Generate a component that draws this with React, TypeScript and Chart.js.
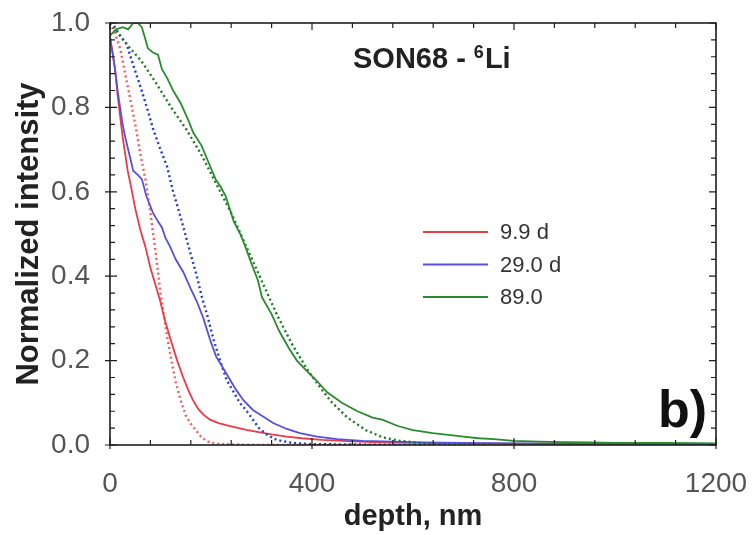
import React, { useEffect, useRef } from "react";
import { Chart, registerables } from "chart.js";

Chart.register(...registerables);

// ---------- data ----------
const SERIES_LABELS = ["9.9 d", "29.0 d", "89.0"];
const X_TICKS = [0, 400, 800, 1200];
const Y_TICKS = [0, 0.2, 0.4, 0.6, 0.8, 1.0];

// 9.9 d measured
const RED_DEPTH = [0, 5, 10, 15, 20, 25, 30, 35, 42, 50, 60, 70, 80, 90, 99, 110, 120, 133, 145, 155, 164, 175, 185, 198, 215, 230, 244, 270, 297, 320, 350, 380, 420, 470, 520, 600, 700, 800, 900, 1000, 1100, 1200];
const RED_VALUE = [0.97, 0.93, 0.89, 0.83, 0.78, 0.73, 0.69, 0.65, 0.61, 0.56, 0.51, 0.47, 0.42, 0.38, 0.343, 0.29, 0.25, 0.2, 0.16, 0.13, 0.107, 0.085, 0.072, 0.06, 0.052, 0.047, 0.043, 0.036, 0.03, 0.025, 0.02, 0.016, 0.012, 0.009, 0.007, 0.005, 0.004, 0.003, 0.003, 0.002, 0.002, 0.002];
// 9.9 d fit
const RED_FIT_DEPTH = [0, 10, 20, 30, 40, 50, 60, 70, 80, 90, 100, 110, 120, 130, 140, 150, 160, 170, 180, 190, 200, 220, 260, 300, 400, 500, 600];
const RED_FIT_VALUE = [1.0, 0.975, 0.94, 0.88, 0.82, 0.76, 0.69, 0.63, 0.55, 0.46, 0.36, 0.28, 0.21, 0.15, 0.105, 0.07, 0.05, 0.035, 0.02, 0.01, 0.005, 0.002, 0.001, 0.0, 0.0, 0.0, 0.0];

// 29.0 d measured
const BLUE_DEPTH = [0, 5, 10, 15, 20, 25, 30, 38, 46, 55, 63, 72, 85, 95, 103, 110, 119, 130, 145, 160, 172, 185, 198, 210, 225, 238, 250, 265, 283, 300, 323, 350, 376, 410, 450, 500, 560, 620, 700, 800, 900, 1000, 1100, 1200];
const BLUE_VALUE = [0.96, 0.93, 0.89, 0.84, 0.8, 0.76, 0.73, 0.69, 0.65, 0.64, 0.63, 0.59, 0.55, 0.53, 0.515, 0.49, 0.47, 0.44, 0.41, 0.37, 0.34, 0.3, 0.25, 0.21, 0.18, 0.154, 0.13, 0.105, 0.083, 0.07, 0.052, 0.038, 0.028, 0.02, 0.014, 0.01, 0.008, 0.006, 0.005, 0.004, 0.003, 0.003, 0.002, 0.002];
// 29.0 d fit
const BLUE_FIT_DEPTH = [0, 10, 20, 33, 46, 60, 73, 85, 100, 113, 125, 135, 145, 158, 172, 182, 192, 205, 218, 231, 245, 257, 271, 283, 295, 310, 330, 360, 400, 500, 600, 700];
const BLUE_FIT_VALUE = [1.0, 0.99, 0.97, 0.95, 0.9, 0.85, 0.8, 0.75, 0.7, 0.66, 0.6, 0.56, 0.517, 0.46, 0.4, 0.35, 0.31, 0.25, 0.2, 0.154, 0.125, 0.1, 0.08, 0.06, 0.04, 0.025, 0.012, 0.005, 0.002, 0.001, 0.0, 0.0];

// 89.0 measured
const GREEN_DEPTH = [0, 12, 25, 36, 46, 55, 63, 68, 75, 85, 95, 103, 113, 125, 140, 155, 165, 181, 195, 209, 220, 229, 245, 258, 268, 280, 293, 301, 320, 335, 354, 370, 390, 408, 430, 459, 490, 520, 539, 570, 600, 639, 670, 700, 730, 760, 800, 850, 900, 950, 1000, 1100, 1200];
const GREEN_VALUE = [0.97, 0.985, 0.99, 0.985, 1.0, 1.0, 0.99, 0.97, 0.94, 0.93, 0.925, 0.89, 0.87, 0.84, 0.81, 0.77, 0.74, 0.71, 0.67, 0.63, 0.61, 0.59, 0.53, 0.5, 0.47, 0.43, 0.39, 0.35, 0.31, 0.27, 0.23, 0.2, 0.175, 0.154, 0.125, 0.1, 0.08, 0.065, 0.06, 0.045, 0.035, 0.028, 0.024, 0.02, 0.016, 0.014, 0.01, 0.008, 0.007, 0.006, 0.005, 0.005, 0.004];
// 89.0 fit
const GREEN_FIT_DEPTH = [0, 20, 40, 62, 90, 121, 150, 180, 210, 240, 270, 300, 330, 360, 390, 420, 440, 470, 507, 540, 573, 620, 680, 800, 1000, 1200];
const GREEN_FIT_VALUE = [1.0, 0.97, 0.94, 0.91, 0.86, 0.8, 0.75, 0.69, 0.62, 0.55, 0.47, 0.39, 0.31, 0.24, 0.18, 0.13, 0.1, 0.065, 0.035, 0.018, 0.01, 0.004, 0.001, 0.0, 0.0, 0.0];

const FONT = "'Liberation Sans', Arial, Helvetica, sans-serif";

const pts = (xs: number[], ys: number[]) => xs.map((x, i) => ({ x, y: ys[i] }));

const framePlugin = {
  id: "frameTicks",
  afterDatasetsDraw(chart: any) {
    const { ctx, chartArea: a, scales } = chart;
    const xs = scales.x;
    const ys = scales.y;
    ctx.save();
    ctx.strokeStyle = "#1e1e1e";
    ctx.lineWidth = 1.6;
    ctx.strokeRect(a.left, a.top, a.right - a.left, a.bottom - a.top);
    ctx.lineWidth = 1.2;
    ctx.beginPath();
    for (let i = 0; i <= 15; i++) {
      const v = i * 80;
      const px = xs.getPixelForValue(v);
      const major = i % 5 === 0;
      const len = major ? 7 : 5;
      ctx.moveTo(px, a.bottom + (major ? 4 : 0));
      ctx.lineTo(px, a.bottom - len);
      ctx.moveTo(px, a.top);
      ctx.lineTo(px, a.top + len);
    }
    for (let i = 0; i <= 25; i++) {
      const v = i * 0.04;
      const py = ys.getPixelForValue(v);
      const major = i % 5 === 0;
      const len = major ? 7 : 5;
      ctx.moveTo(a.left - (major ? 5 : 0), py);
      ctx.lineTo(a.left + len, py);
      ctx.moveTo(a.right, py);
      ctx.lineTo(a.right - len, py);
    }
    ctx.stroke();

    // legend
    const sets = chart.data.datasets.filter((d: any) => !d.isFit);
    const order = [...sets].sort((p: any, q: any) => p.legendIndex - q.legendIndex);
    order.forEach((d: any, k: number) => {
      const y = a.top + 209 + k * 32.5;
      ctx.strokeStyle = d.borderColor;
      ctx.lineWidth = 2;
      ctx.beginPath();
      ctx.moveTo(a.left + 313, y);
      ctx.lineTo(a.left + 378, y);
      ctx.stroke();
      ctx.fillStyle = "#333";
      ctx.font = `22px ${FONT}`;
      ctx.textBaseline = "middle";
      ctx.textAlign = "left";
      ctx.fillText(d.label, a.left + 390, y + 1);
    });

    // title
    ctx.fillStyle = "#222";
    ctx.textBaseline = "alphabetic";
    ctx.textAlign = "left";
    let tx = 353;
    const ty = 68;
    ctx.font = `bold 29px ${FONT}`;
    ctx.fillText("SON68 - ", tx, ty);
    tx += ctx.measureText("SON68 - ").width;
    ctx.font = `bold 18px ${FONT}`;
    ctx.fillText("6", tx, ty - 10);
    tx += ctx.measureText("6").width + 1;
    ctx.font = `bold 29px ${FONT}`;
    ctx.fillText("Li", tx, ty);

    // panel label
    ctx.font = `bold 52px ${FONT}`;
    ctx.fillStyle = "#111";
    ctx.fillText("b)", a.left + 548, a.bottom - 18);
    ctx.restore();
  },
};

export default function App() {
  const ref = useRef<HTMLCanvasElement | null>(null);
  useEffect(() => {
    document.body.style.margin = "0";
    const canvas = ref.current;
    if (!canvas) return;
    const solid = (label: string, xs: number[], ys: number[], color: string, legendIndex: number) => ({
      label,
      data: pts(xs, ys),
      borderColor: color,
      backgroundColor: color,
      borderWidth: 1.8,
      pointRadius: 0,
      showLine: true,
      tension: 0,
      isFit: false,
      legendIndex,
    });
    const fit = (label: string, xs: number[], ys: number[], color: string) => ({
      label,
      data: pts(xs, ys),
      borderColor: color,
      backgroundColor: color,
      borderWidth: 2.4,
      borderDash: [2, 3],
      pointRadius: 0,
      showLine: true,
      tension: 0,
      isFit: true,
    });
    const chart = new Chart(canvas, {
      type: "scatter",
      data: {
        datasets: [
          solid(SERIES_LABELS[2], GREEN_DEPTH, GREEN_VALUE, "rgb(40,140,45)", 2),
          fit(SERIES_LABELS[2] + " fit", GREEN_FIT_DEPTH, GREEN_FIT_VALUE, "rgb(30,120,35)"),
          solid(SERIES_LABELS[1], BLUE_DEPTH, BLUE_VALUE, "rgb(85,80,225)", 1),
          fit(SERIES_LABELS[1] + " fit", BLUE_FIT_DEPTH, BLUE_FIT_VALUE, "rgb(40,60,200)"),
          solid(SERIES_LABELS[0], RED_DEPTH, RED_VALUE, "rgb(232,60,70)", 0),
          fit(SERIES_LABELS[0] + " fit", RED_FIT_DEPTH, RED_FIT_VALUE, "rgb(240,95,95)"),
        ] as any,
      },
      options: {
        animation: false,
        responsive: false,
        devicePixelRatio: 1,
        layout: { padding: { top: 23, right: 39, left: 0, bottom: 0 } },
        plugins: { legend: { display: false }, tooltip: { enabled: false }, title: { display: false } },
        scales: {
          x: {
            type: "linear",
            min: 0,
            max: 1200,
            afterBuildTicks: (s: any) => { s.ticks = X_TICKS.map((v) => ({ value: v })); },
            afterFit: (s: any) => {
              s.height = 90;
              s.paddingLeft = 0;
              s.paddingRight = 0;
            },
            grid: { display: false },
            border: { display: false },
            ticks: { font: { family: FONT, size: 28 }, color: "#555", padding: 14, maxRotation: 0, callback: (v: any) => String(v) },
            title: { display: true, text: "depth, nm", font: { family: FONT, size: 29, weight: "bold" }, color: "#222", padding: { top: 0, bottom: 1 } },
          },
          y: {
            type: "linear",
            min: 0,
            max: 1,
            afterBuildTicks: (s: any) => { s.ticks = Y_TICKS.map((v) => ({ value: v })); },
            afterFit: (s: any) => {
              s.width = 110;
              s.paddingTop = 0;
              s.paddingBottom = 0;
            },
            grid: { display: false },
            border: { display: false },
            ticks: { font: { family: FONT, size: 28 }, color: "#555", padding: 12, callback: (v: any) => Number(v).toFixed(1) },
            title: { display: true, text: "Normalized intensity", font: { family: FONT, size: 31, weight: "bold" }, color: "#222", padding: { top: 11, bottom: 0 } },
          },
        },
      },
      plugins: [framePlugin],
    } as any);
    return () => chart.destroy();
  }, []);
  return (
    <div style={{ position: "absolute", left: 0, top: 0, width: 755, height: 535, background: "#fff" }}>
      <canvas ref={ref} width={755} height={535} />
    </div>
  );
}
